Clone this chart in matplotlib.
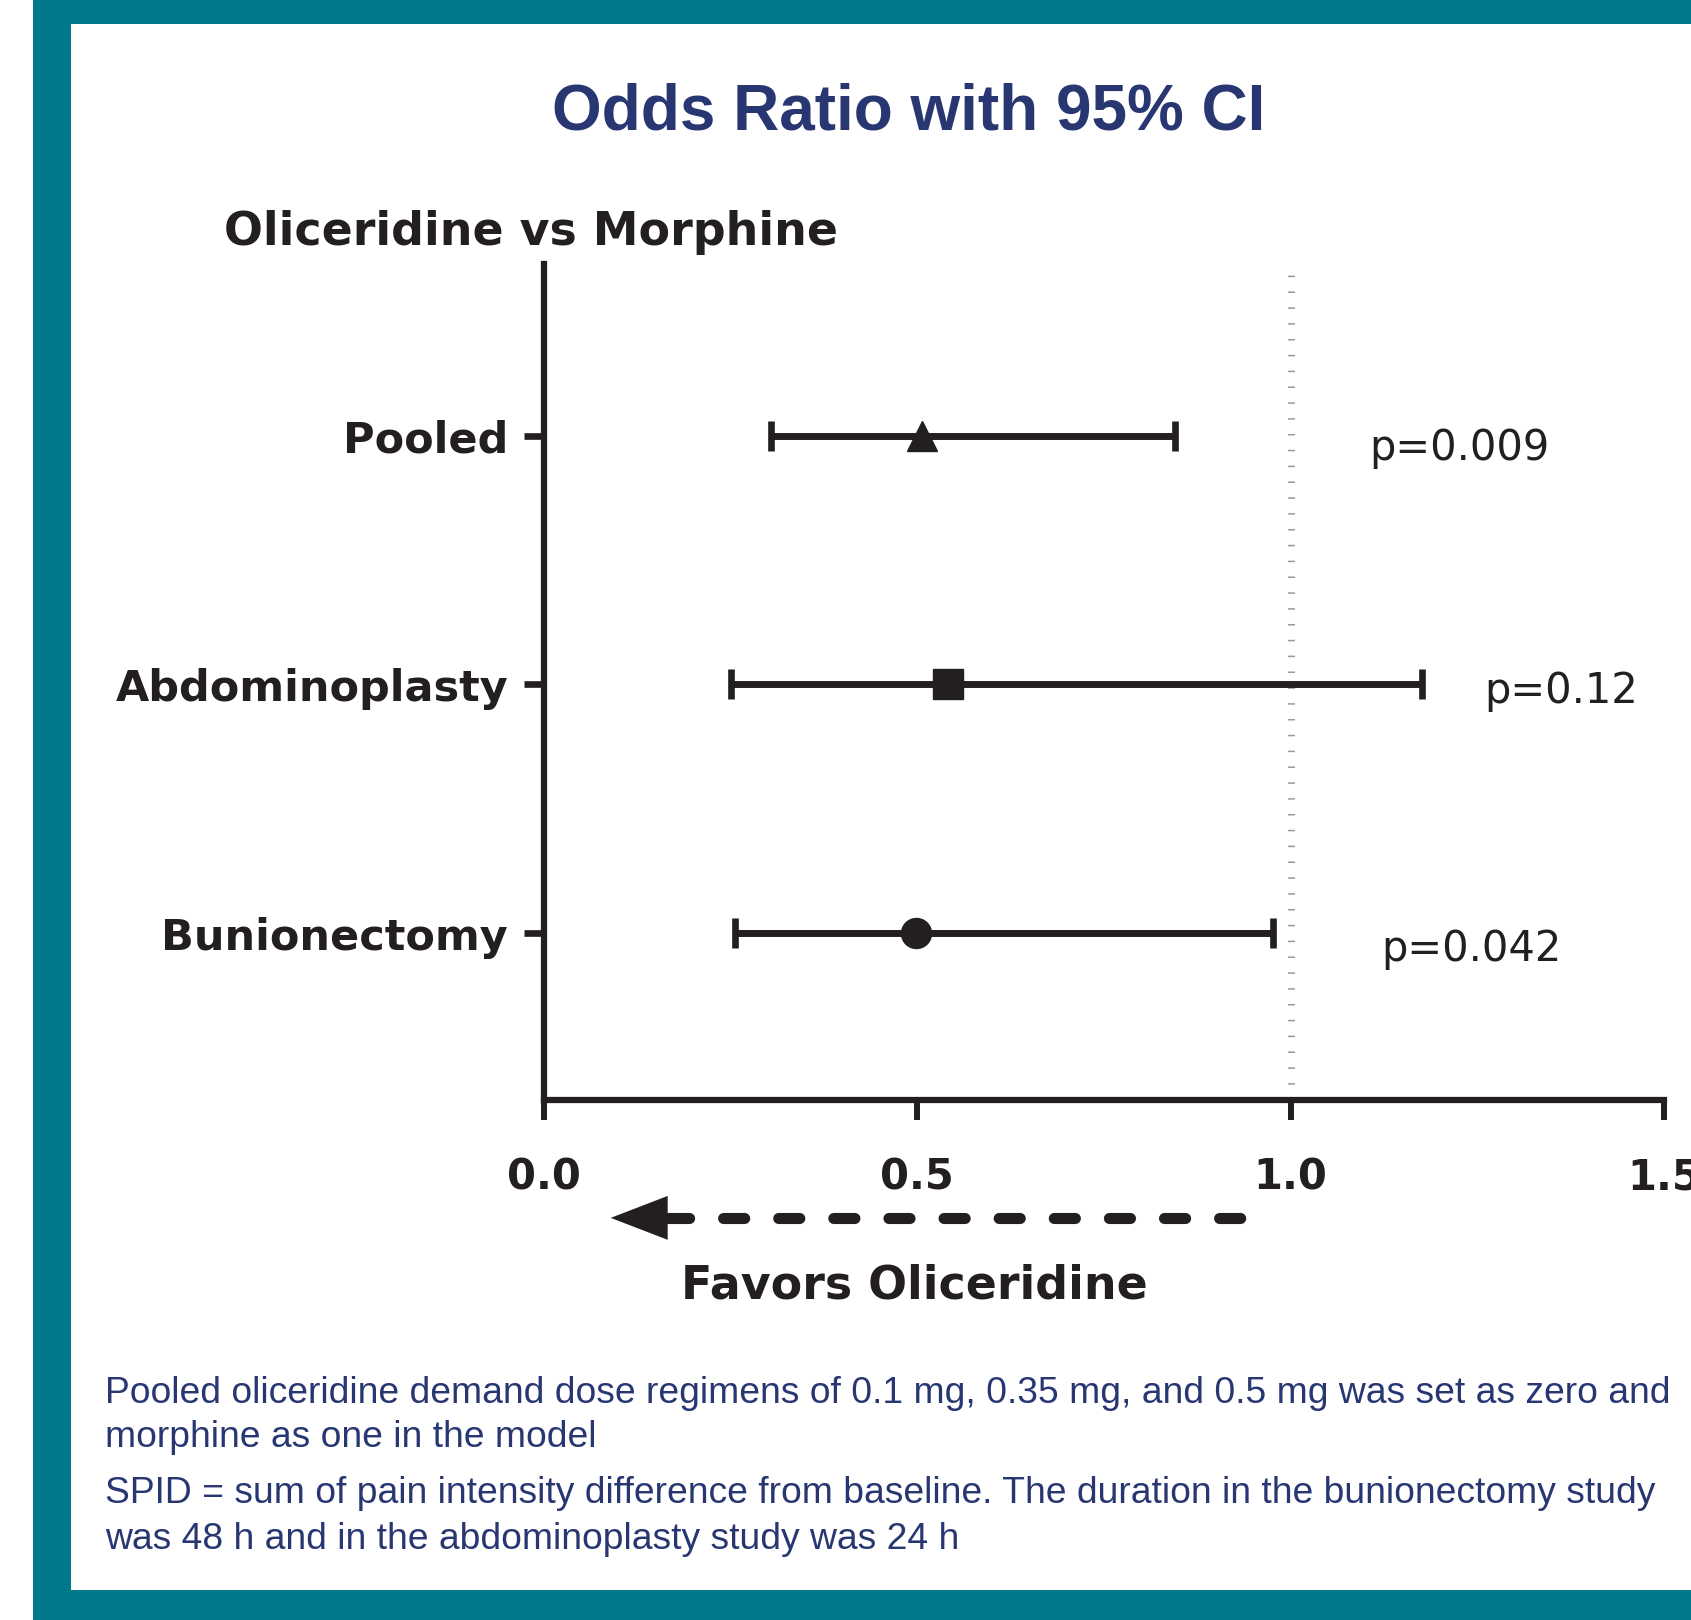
import numpy as np
import matplotlib
matplotlib.use("Agg")
import matplotlib.pyplot as plt
from matplotlib.patches import Rectangle

# data
groups = ["Pooled", "Abdominoplasty", "Bunionectomy"]
odds = [0.507, 0.542, 0.499]
ci_low = [0.305, 0.251, 0.256]
ci_high = [0.845, 1.176, 0.977]
markers = ["^", "s", "o"]
pvals = ["p=0.009", "p=0.12", "p=0.042"]
xticks = [0.0, 0.5, 1.0, 1.5]

note_lines = [
	"Pooled oliceridine demand dose regimens of 0.1 mg, 0.35 mg, and 0.5 mg was set as zero and",
	"morphine as one in the model",
	"SPID = sum of pain intensity difference from baseline. The duration in the bunionectomy study",
	"was 48 h and in the abdominoplasty study was 24 h",
]
note_base = [1403, 1447, 1503, 1549]  # baselines, px from top

# label placement (data coords)
p_x = [1.106, 1.260, 1.121]
p_y = [2.904, 1.925, 0.888]

W, H = 1691, 1620
ink = "#231F20"
navy = "#283672"
teal = "#007A8B"

fig = plt.figure(figsize=(W / 100, H / 100), dpi=100)

def px_rect(x0, y0, x1, y1):
	# rectangle given in pixel coords from top-left
	fig.patches.append(Rectangle((x0 / W, 1 - y1 / H), (x1 - x0) / W, (y1 - y0) / H,
		transform=fig.transFigure, facecolor=teal, edgecolor="none", zorder=0))

px_rect(33, 0, W, 24)
px_rect(33, 0, 71, H)
px_rect(33, 1590, W, H)

ax = fig.add_axes([543.5 / W, 1 - 1100 / H, (1664 - 543.5) / W, (1100 - 264) / H])
ypos = np.arange(len(groups), 0, -1)

ax.axvline(1.0, color="#9a9a9a", lw=5, dashes=(0.22, 2.06), dash_capstyle="butt", zorder=1)

lo = np.array(odds) - np.array(ci_low)
hi = np.array(ci_high) - np.array(odds)
ax.errorbar(odds, ypos, xerr=[lo, hi], fmt="none", ecolor=ink, elinewidth=5,
	capsize=10.8, capthick=4.8, zorder=2)
for i in range(len(groups)):
	ms = 21.6 if markers[i] == "o" else 22.3
	ax.plot(odds[i], ypos[i], marker=markers[i], ms=ms, color=ink, mec=ink, ls="none", zorder=3)

for i in range(len(pvals)):
	ax.text(p_x[i], p_y[i], pvals[i], fontsize=30, color=ink, family="DejaVu Sans",
		ha="left", va="baseline", clip_on=False)

ax.set_xlim(0, 1.5)
ax.set_ylim(0.33, 3.69)
ax.set_xticks(xticks)
ax.set_xticklabels(["%.1f" % t for t in xticks], fontsize=30, fontweight="bold",
	family="DejaVu Sans", color=ink)
ax.set_yticks(ypos)
ax.set_yticklabels(groups, fontsize=31, fontweight="bold", family="DejaVu Sans", color=ink)
ax.tick_params(axis="x", length=14.4, width=4.3, color=ink, pad=26)
ax.tick_params(axis="y", length=14.4, width=4.8, color=ink, pad=11)
for s in ["top", "right"]:
	ax.spines[s].set_visible(False)
for s in ["left", "bottom"]:
	ax.spines[s].set_linewidth(4.5)
	ax.spines[s].set_color(ink)

# favors arrow below the axis
tr = ax.get_xaxis_transform()
ax.plot([0.167, 0.944], [-0.141, -0.141], transform=tr, clip_on=False, color=ink, lw=8,
	dashes=(1.9, 3.06), dash_capstyle="round")
ax.annotate("", xy=(0.090, -0.141), xytext=(0.167, -0.141), xycoords=tr, textcoords=tr,
	arrowprops=dict(arrowstyle="-|>,head_length=2.05,head_width=0.79", mutation_scale=20,
		shrinkA=0, shrinkB=0, lw=0, fc=ink, ec=ink), annotation_clip=False)
ax.text(0.497, -0.222, "Favors Oliceridine", transform=tr, ha="center", va="center",
	fontsize=33, fontweight="bold", family="DejaVu Sans", color=ink, clip_on=False)

fig.text(909 / W, 1 - 130 / H, "Odds Ratio with 95% CI", ha="center", va="baseline",
	fontsize=46, fontweight="bold", family="Liberation Sans", color=navy)
fig.text(224 / W, 1 - 245 / H, "Oliceridine vs Morphine", ha="left", va="baseline",
	fontsize=33, fontweight="bold", family="DejaVu Sans", color=ink)

for line, yb in zip(note_lines, note_base):
	fig.text(105 / W, 1 - yb / H, line, ha="left", va="baseline", fontsize=26.8,
		family="Liberation Sans", color=navy)

fig.savefig("out.png", dpi=100, facecolor="white")
